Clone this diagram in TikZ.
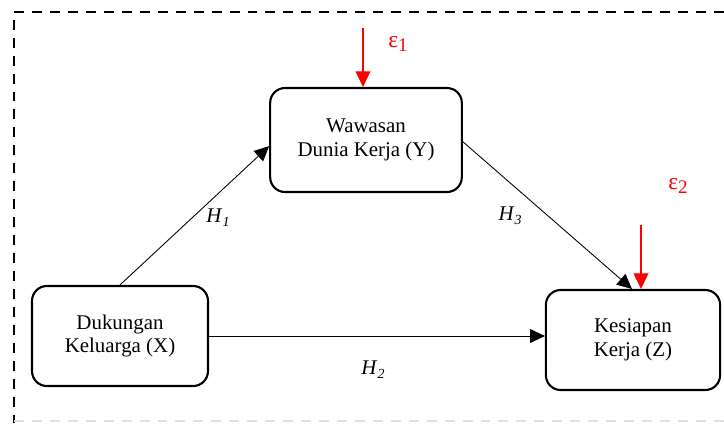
\documentclass[tikz,border=0pt]{standalone}
\usepackage{fontspec}
\setmainfont{Liberation Serif}
\usepackage{tikz}
\usetikzlibrary{arrows.meta}
\usepackage{color}

\begin{document}
\begin{tikzpicture}[x=0.574pt,y=-0.574pt]
\tikzset{var/.style={draw,line width=1.2pt,rounded corners=8.5pt,align=center,font=\fontsize{12}{13.5}\selectfont},
arr/.style={-{Triangle[length=8.5pt,width=8pt]},line width=0.5pt},
err/.style={-{Triangle[length=9pt,width=8.5pt]},line width=0.7pt,red},
lbl/.style={font=\fontsize{12}{14}\selectfont}}
\useasboundingbox (0,0) rectangle (724,423);
% border
\draw[line width=1.1pt,dash pattern=on 5.7pt off 4.6pt] (724,12) -- (14,12) -- (14,423);
\draw[line width=1.1pt,dash pattern=on 5.7pt off 4.6pt,black!12] (14,421) -- (724,421);
% variables
\node [var,minimum width=101pt,minimum height=57.4pt](X) at (120,336) {Dukungan\\Keluarga (X)};
\node [var,minimum width=110pt,minimum height=59.7pt](Y) at (366,140) {Wawasan\\Dunia Kerja (Y)};
\node [var,minimum width=100pt,minimum height=57.4pt](Z) at (633,340) {Kesiapan\\Kerja (Z)};
\coordinate (e1) at (363,28);
\coordinate (e2) at (641,225);
\draw [arr] (X.north) -- ([yshift=-3.5pt]Y.west);
\draw [arr] (X.east) -- (X.east -| Z.west);
\draw [arr] ([yshift=-1pt]Y.east) -- ([xshift=-0.6pt]Z.north);
\draw [err] (e1) -- (e1 |- Y.north);
\draw [err] (e2) -- (e2 |- Z.north);
% labels
\node [lbl,text=red] (l1) at (398,44) {{\fontsize{13.5}{14}\selectfont ε}\raisebox{-0.4ex}{\fontsize{11}{12}\selectfont 1}};
\node [lbl,text=red] (l2) at (678,186) {{\fontsize{13.5}{14}\selectfont ε}\raisebox{-0.4ex}{\fontsize{11}{12}\selectfont 2}};
\node [lbl] (h1) at (218,218) {\textit{H}\raisebox{-0.4ex}{\fontsize{8}{9}\selectfont\textit{1}}};
\node [lbl] (h2) at (373,370) {\textit{H}\raisebox{-0.4ex}{\fontsize{8}{9}\selectfont\textit{2}}};
\node [lbl] (h3) at (510,216) {\textit{H}\raisebox{-0.4ex}{\fontsize{8}{9}\selectfont\textit{3}}};
\end{tikzpicture}
\end{document}
